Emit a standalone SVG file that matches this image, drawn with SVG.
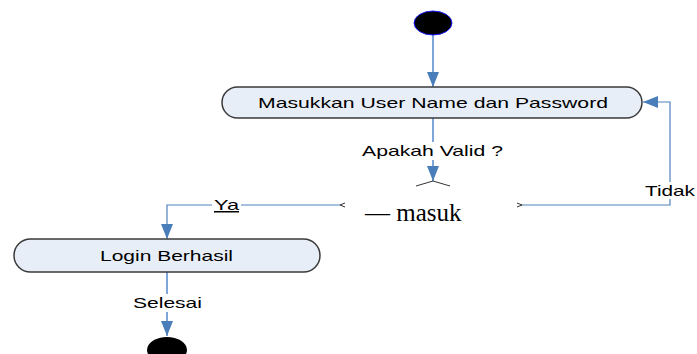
<svg xmlns="http://www.w3.org/2000/svg" width="697" height="354" viewBox="0 0 697 354">
<style>
.node{fill:#e8eef7;stroke:#3a3a3a;stroke-width:1.5}
.lbl{font-family:"Liberation Sans",Arial,sans-serif;font-size:15px;fill:#000}
.conn{fill:none;stroke:#4f81bd;stroke-width:1.2}
.conn2{fill:none;stroke:#7ea6d8;stroke-width:2}
.bg{fill:#fff}
.tick{fill:none;stroke:#000;stroke-width:0.8}
</style>
<defs>
<marker id="ah" markerWidth="16" markerHeight="12" refX="15" refY="6" orient="auto" markerUnits="userSpaceOnUse">
<path d="M0,0 L15,6 L0,12 Z" fill="#4a7ebb"/>
</marker>
</defs>
<rect width="697" height="354" fill="#fff"/>
<g id="connectors">
<line class="conn2" x1="433" y1="35" x2="433" y2="87" marker-end="url(#ah)"/>
<line class="conn2" x1="433" y1="118" x2="433" y2="181" marker-end="url(#ah)"/>
<polyline class="tick" points="416,186 433,181 450,186"/>
<polyline class="conn" points="340,205 167,205 167,239" marker-end="url(#ah)"/>
<polyline class="tick" points="345,203 340,205 345,207"/>
<polyline class="conn" points="522,205 670,205 670,102 643,102" marker-end="url(#ah)"/>
<polyline class="tick" points="517,203 522,205 517,207"/>
<line class="conn2" x1="167" y1="272" x2="167" y2="336" marker-end="url(#ah)"/>
<rect class="bg" x="360" y="142" width="145" height="18"/>
<text class="lbl" x="362" y="156" textLength="141" lengthAdjust="spacingAndGlyphs">Apakah Valid ?</text>
<rect class="bg" x="212" y="196" width="29" height="18"/>
<text class="lbl" x="214" y="210" textLength="25" lengthAdjust="spacingAndGlyphs" text-decoration="underline">Ya</text>
<rect class="bg" x="643" y="182" width="54" height="17"/>
<text class="lbl" x="645" y="196" textLength="50" lengthAdjust="spacingAndGlyphs">Tidak</text>
<rect class="bg" x="131" y="294" width="73" height="18"/>
<text class="lbl" x="133" y="308" textLength="69" lengthAdjust="spacingAndGlyphs">Selesai</text>
</g>
<g id="start">
<ellipse cx="433" cy="23" rx="19" ry="12" fill="#000" stroke="#1a1aff" stroke-width="1"/>
</g>
<g id="masukkan">
<rect class="node" x="222" y="87" width="420" height="31" rx="15.5" ry="15.5"/>
<text class="lbl" x="258" y="108" textLength="350" lengthAdjust="spacingAndGlyphs">Masukkan User Name dan Password</text>
</g>
<g id="decision">
<text x="365" y="221" font-family="'Liberation Serif','Times New Roman',serif" font-size="25" fill="#000">— masuk</text>
</g>
<g id="login">
<rect class="node" x="14" y="239" width="306" height="33" rx="16.5" ry="16.5"/>
<text class="lbl" x="100" y="261" textLength="133" lengthAdjust="spacingAndGlyphs">Login Berhasil</text>
</g>
<g id="end">
<ellipse cx="167" cy="350" rx="20" ry="13" fill="#000"/>
</g>
</svg>
